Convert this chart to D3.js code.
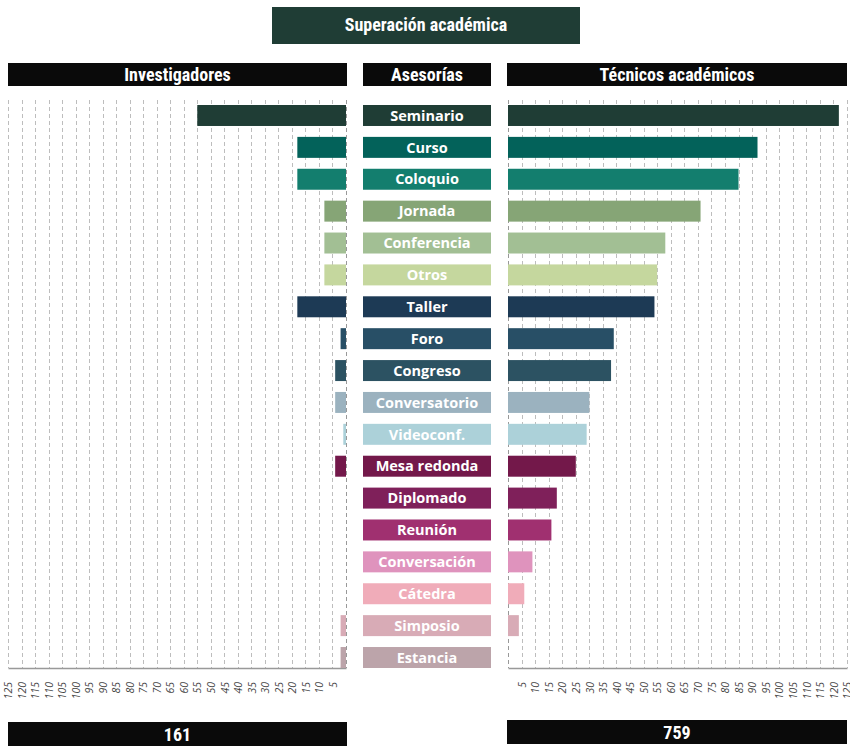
<!DOCTYPE html>
<html>
<head>
<meta charset="utf-8">
<title>Superación académica</title>
<script src="https://d3js.org/d3.v7.min.js"></script>
<style>
  html, body { margin: 0; background: #fff; }
  svg { display: block; }
  .cond { font-family: "Liberation Sans Narrow", "Roboto Condensed", "Arial Narrow", sans-serif; font-weight: bold; }
  .lbl { font-family: "Open Sans", "Noto Sans", sans-serif; font-weight: 700; }
  .tick text { font-family: "Open Sans", "DejaVu Sans", sans-serif; font-style: italic; }
</style>
</head>
<body>
<svg id="chart" width="850" height="746"></svg>
<script>
// datos
var categorias = ["Seminario", "Curso", "Coloquio", "Jornada", "Conferencia", "Otros", "Taller", "Foro",
  "Congreso", "Conversatorio", "Videoconf.", "Mesa redonda", "Diplomado", "Reunión", "Conversación",
  "Cátedra", "Simposio", "Estancia"];
var investigadores = [55, 18, 18, 8, 8, 8, 18, 2, 4, 4, 1, 4, 0, 0, 0, 0, 2, 2];
var tecnicos = [122, 92, 85, 71, 58, 55, 54, 39, 38, 30, 29, 25, 18, 16, 9, 6, 4, 0];
var colores = ["#1f3d35", "#03625a", "#137e6e", "#86a576", "#a2bf94", "#c5d79e", "#1d3a55", "#284f66",
  "#2c5262", "#9bb2bf", "#acd1d9", "#73184a", "#7f205a", "#a03070", "#df93bd", "#f0acb9", "#d8abb6", "#bca4aa"];
var marcas = [5, 10, 15, 20, 25, 30, 35, 40, 45, 50, 55, 60, 65, 70, 75, 80, 85, 90, 95, 100, 105, 110, 115, 120, 125];
var titulo = "Superación académica";
var totalInv = "161", totalTec = "759";

var svg = d3.select("#chart");

var gridTop = 100, base = 668;

var y = d3.scaleBand().domain(categorias).range([105, 668]).paddingInner(0.342).paddingOuter(0);
var xL = d3.scaleLinear().domain([0, 125]).range([346, 8]);
var xR = d3.scaleLinear().domain([0, 125]).range([508, 847]);

// cajas de encabezado
function caja(x0, y0, w, h, fill, txt, size, ty) {
  svg.append("rect").attr("x", x0).attr("y", y0).attr("width", w).attr("height", h).attr("fill", fill);
  svg.append("text").attr("class", "cond").attr("x", x0 + w / 2).attr("y", ty)
    .attr("text-anchor", "middle").attr("fill", "white").style("font-size", size + "px").text(txt);
}
caja(272, 7, 308, 37, "#1f3d35", titulo, 18, 31);
caja(8, 63, 339, 23, "#0a0a0a", "Investigadores", 18, 81);
caja(363, 63, 128, 23, "#0a0a0a", "Asesorías", 18, 81);
caja(507, 63, 340, 23, "#0a0a0a", "Técnicos académicos", 18, 81);
caja(8, 722, 339, 24, "#0a0a0a", totalInv, 18, 741);
caja(507, 720, 340, 24, "#0a0a0a", totalTec, 18, 739);

// ejes con rejilla
function eje(scale) {
  var g = svg.append("g").attr("transform", "translate(0," + base + ")");
  g.selectAll(".grid").data([0].concat(marcas)).enter().append("line")
    .attr("class", "grid")
    .attr("x1", function(d) { return Math.round(scale(d)) + 0.5; })
    .attr("x2", function(d) { return Math.round(scale(d)) + 0.5; })
    .attr("y1", gridTop - base).attr("y2", 0)
    .attr("stroke", function(d) { return d == 0 ? "#999" : "#bdbdbd"; })
    .attr("stroke-width", 1)
    .attr("stroke-dasharray", "4,3");
  var ax = d3.axisBottom(scale).tickValues(marcas).tickSize(0).tickPadding(0);
  g.append("g").call(ax).call(function(s) {
    s.select(".domain").attr("stroke", "#999").attr("stroke-width", 1.5);
    s.selectAll(".tick text")
      .attr("fill", "#444")
      .style("font-size", "10.5px")
      .attr("text-anchor", "end")
      .attr("transform", "translate(0,14) rotate(-90)")
      .attr("x", 0).attr("y", 0).attr("dy", "0.35em");
  });
}
eje(xL);
eje(xR);

// barras investigadores
svg.append("g").selectAll("rect").data(categorias).enter().append("rect")
  .attr("x", function(d, i) { return xL(investigadores[i]); })
  .attr("y", function(d) { return y(d); })
  .attr("width", function(d, i) { return xL(0) - xL(investigadores[i]); })
  .attr("height", y.bandwidth())
  .attr("fill", function(d, i) { return colores[i]; });

// barras técnicos
svg.append("g").selectAll("rect").data(categorias).enter().append("rect")
  .attr("x", xR(0))
  .attr("y", function(d) { return y(d); })
  .attr("width", function(d, i) { return xR(tecnicos[i]) - xR(0); })
  .attr("height", y.bandwidth())
  .attr("fill", function(d, i) { return colores[i]; });

// etiquetas centrales
var lab = svg.append("g").selectAll("g").data(categorias).enter().append("g");
lab.append("rect")
  .attr("x", 363).attr("width", 128)
  .attr("y", function(d) { return y(d); })
  .attr("height", y.bandwidth())
  .attr("fill", function(d, i) { return colores[i]; });
lab.append("text").attr("class", "lbl")
  .attr("x", 427)
  .attr("y", function(d) { return y(d) + y.bandwidth() / 2; })
  .attr("dy", "0.36em")
  .attr("text-anchor", "middle")
  .attr("fill", "white")
  .style("font-size", "14.5px")
  .text(function(d) { return d; });
</script>
</body>
</html>
